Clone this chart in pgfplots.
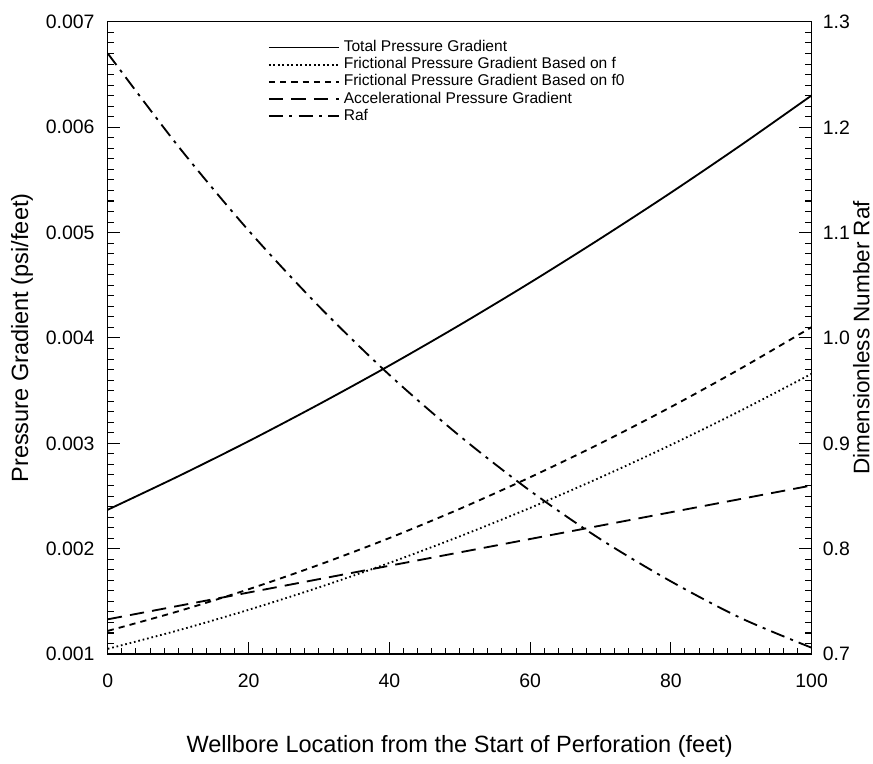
\documentclass[border=0pt]{standalone}
\usepackage{pgfplots}
\pgfplotsset{compat=1.18}
\usepackage{fontspec}
\setmainfont{Liberation Sans}
\begin{document}
\begin{tikzpicture}[font=\fontsize{9.5}{11}\selectfont]
\pgfplotsset{
  common/.style={
    scale only axis, width=344pt, height=309pt,
    at={(0,0)}, anchor=south west,
    xmin=0, xmax=100,
    /pgf/number format/assume math mode=true,
    tick align=inside,
    major tick length=6pt, minor tick length=3.2pt,
    tick style={black, line width=0.5pt},
    axis line style={line width=0.6pt},
    every axis label/.append style={font=\fontsize{11.5}{13}\selectfont},
  }
}
\begin{axis}[common,
  ymin=0.001, ymax=0.007,
  ytick={0.001,0.002,0.003,0.004,0.005,0.006,0.007},
  scaled y ticks=false,
  yticklabel style={/pgf/number format/fixed, /pgf/number format/precision=3, /pgf/number format/fixed zerofill, xshift=-3pt},
  xticklabel style={yshift=-6pt},
  xtick={0,20,40,60,80,100},
  minor x tick num=9, minor y tick num=9,
  xtick pos=left, ytick pos=left,
  xlabel={Wellbore Location from the Start of Perforation (feet)},
  ylabel={Pressure Gradient (psi/feet)},
  xlabel style={at={(axis description cs:0.5,0)}, anchor=north, yshift=-36pt},
  ylabel style={at={(axis description cs:0,0.5)}, anchor=south, yshift=33pt},
  legend style={draw=none, fill=none, at={(0.227,0.978)}, anchor=north west,
    font=\fontsize{7.6}{9}\selectfont, row sep=-2.6pt, inner sep=0pt},
  legend cell align=left,
  legend image code/.code={\draw[#1] (0cm,0cm) -- (1.2cm,0cm);},
]
\addplot[black, line width=0.9pt, smooth] coordinates {
 (0,0.002370) (10,0.002687) (20,0.003020) (30,0.003371) (40,0.003738) (50,0.004123)
 (60,0.004525) (70,0.004944) (80,0.005379) (90,0.005832) (100,0.006302)};
\addlegendentry{Total Pressure Gradient}
\addplot[black, line width=0.9pt, smooth, dash pattern=on 0.8pt off 1.4pt] coordinates {
 (0,0.001050) (10,0.001225) (20,0.001420) (30,0.001633) (40,0.001865) (50,0.002117)
 (60,0.002387) (70,0.002677) (80,0.002985) (90,0.003313) (100,0.003660)};
\addlegendentry{Frictional Pressure Gradient Based on f}
\addplot[black, line width=0.9pt, smooth, dash pattern=on 3pt off 2.5pt] coordinates {
 (0,0.001220) (10,0.001406) (20,0.001615) (30,0.001847) (40,0.002101) (50,0.002378)
 (60,0.002678) (70,0.003000) (80,0.003345) (90,0.003713) (100,0.004103)};
\addlegendentry{Frictional Pressure Gradient Based on f0}
\addplot[black, line width=0.9pt, smooth, dash pattern=on 7pt off 4pt] coordinates {
 (0,0.001330) (10,0.001457) (20,0.001584) (30,0.001711) (40,0.001838) (50,0.001965)
 (60,0.002092) (70,0.002219) (80,0.002346) (90,0.002473) (100,0.002600)};
\addlegendentry{Accelerational Pressure Gradient}
\addlegendimage{black, line width=0.9pt, dash pattern=on 7pt off 3pt on 1.5pt off 3pt}
\addlegendentry{Raf}
\end{axis}
\begin{axis}[common,
  ymin=0.7, ymax=1.3,
  ytick={0.7,0.8,0.9,1.0,1.1,1.2,1.3},
  yticklabel style={/pgf/number format/fixed, /pgf/number format/precision=1, /pgf/number format/fixed zerofill, xshift=2pt},
  minor y tick num=9,
  axis y line*=right, axis x line=none,
  ylabel={Dimensionless Number Raf},
  ylabel style={at={(axis description cs:1,0.5)}, anchor=north, inner sep=0pt, yshift=-20pt, font=\fontsize{11}{13}\selectfont},
]
\addplot[black, line width=0.9pt, smooth, dash pattern=on 7pt off 3pt on 1.5pt off 3pt] coordinates {
 (0,1.270) (10,1.182) (20,1.102) (30,1.030) (40,0.965) (50,0.907)
 (60,0.855) (70,0.809) (80,0.769) (90,0.734) (100,0.706)};
\end{axis}
\path (-52.7pt,-53.7pt) rectangle (374pt,319.7pt);
\end{tikzpicture}
\end{document}
